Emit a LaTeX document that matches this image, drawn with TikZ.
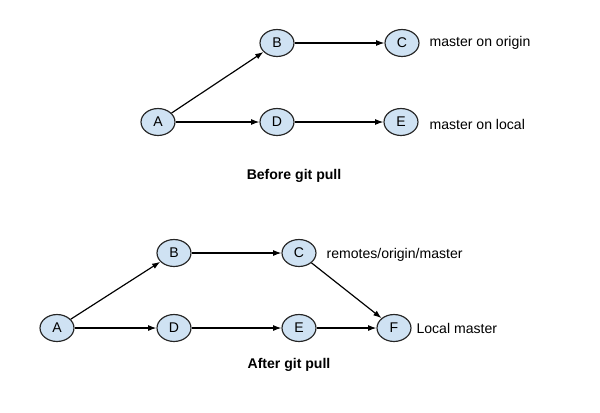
\documentclass[tikz,border=0pt]{standalone}
\usepackage{fontspec}
\setmainfont{Liberation Sans}
\usetikzlibrary{shapes.geometric,arrows.meta}
\definecolor{commitfill}{RGB}{207,226,243}
\tikzset{
  commit/.style={ellipse, draw=black!85, fill=commitfill, line width=1pt, minimum width=29pt, minimum height=23pt, inner sep=0pt, font=\fontsize{12}{14}\selectfont},
  reflabel/.style={anchor=west, inner sep=2pt, font=\fontsize{12}{14}\selectfont},
  caption/.style={font=\bfseries\fontsize{12}{14}\selectfont},
  link/.style={-{Latex[length=7pt,width=5pt]}, line width=1pt}
}
\begin{document}
\begin{tikzpicture}[x=0.03cm,y=-0.03cm]
    \useasboundingbox (0,0) rectangle (600,412);
    % before git pull
    \node[commit] (a1) at (158,122) {A};
    \node[commit] (b1) at (277,43) {B};
    \node[commit] (c1) at (402,43) {C};
    \node[commit] (d1) at (277,122) {D};
    \node[commit] (e1) at (401,122) {E};
    \node[reflabel] (origin1) at (427,43) {master on origin};
    \node[reflabel] (local1) at (427,124) {master on local};
    \node[caption] (before) at (294,176) {Before git pull};
    \draw[link] (a1) -- (b1);
    \draw[link] (b1) -- (c1);
    \draw[link] (a1) -- (d1);
    \draw[link] (d1) -- (e1);
    % after git pull
    \node[commit] (a2) at (57,328) {A};
    \node[commit] (b2) at (174,253) {B};
    \node[commit] (c2) at (299,253) {C};
    \node[commit] (d2) at (174,328) {D};
    \node[commit] (e2) at (299,328) {E};
    \node[commit] (f2) at (394,328) {F};
    \node[reflabel] (origin2) at (324,255) {remotes/origin/master};
    \node[reflabel] (local2) at (414,328) {Local master};
    \node[caption] (after) at (289,365) {After git pull};
    \draw[link] (a2) -- (b2);
    \draw[link] (b2) -- (c2);
    \draw[link] (a2) -- (d2);
    \draw[link] (d2) -- (e2);
    \draw[link] (e2) -- (f2);
    \draw[link] (c2) -- (f2);
\end{tikzpicture}
\end{document}
